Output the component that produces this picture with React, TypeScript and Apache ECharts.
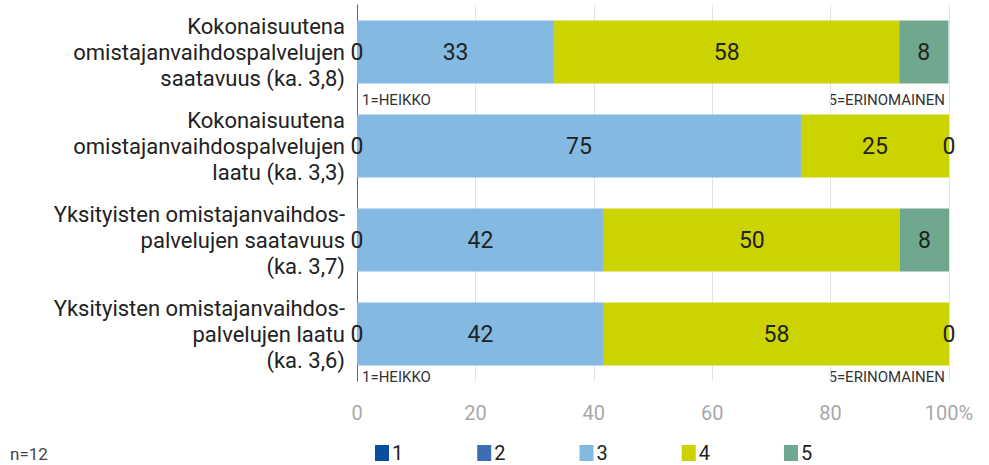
import React, { useEffect, useRef } from "react";
import * as echarts from "echarts";

const categories = [
  "Kokonaisuutena\nomistajanvaihdospalvelujen\nsaatavuus (ka. 3,8)",
  "Kokonaisuutena\nomistajanvaihdospalvelujen\nlaatu (ka. 3,3)",
  "Yksityisten omistajanvaihdos-\npalvelujen saatavuus\n(ka. 3,7)",
  "Yksityisten omistajanvaihdos-\npalvelujen laatu\n(ka. 3,6)",
];
const seriesNames = ["1", "2", "3", "4", "5"];
const s1 = [0, 0, 0, 0];
const s2 = [0, 0, 0, 0];
const s3 = [33.3, 75, 41.7, 41.7];
const s4 = [58.3, 25, 50, 58.3];
const s5 = [8.3, 0, 8.3, 0];
const colors = ["#0a4f9e", "#3d6db4", "#84bae2", "#cbd300", "#6fa88f"];
const xTicks = [0, 20, 40, 60, 80, 100];

const FONT = "Roboto, sans-serif";

export default function App() {
  const ref = useRef<HTMLDivElement>(null);
  useEffect(() => {
    if (!ref.current) return;
    const chart = echarts.init(ref.current, null, { renderer: "svg" });
    const data = [s1, s2, s3, s4, s5];
    const series = data.map((d, i) => ({
      name: seriesNames[i],
      type: "bar",
      stack: "total",
      barWidth: 63,
      data: d,
      itemStyle: { color: colors[i] },
      label: {
        show: i !== 1,
        position: "inside",
        color: "#222",
        fontSize: 23,
        fontFamily: FONT,
        formatter: (p: any) => String(Math.round(p.value)),
      },
    }));
    const small = { fontSize: 15, fontFamily: FONT, fill: "#333" };
    chart.setOption({
      animation: false,
      textStyle: { fontFamily: FONT },
      grid: { left: 357, right: 40, top: 5, bottom: 84, containLabel: false },
      xAxis: {
        type: "value",
        min: 0,
        max: 100,
        interval: 20,
        axisLabel: {
          color: "#a8a8a8",
          fontSize: 20,
          margin: 22,
          formatter: (v: number) => (v === xTicks[xTicks.length - 1] ? v + "%" : String(v)),
        },
        splitLine: { lineStyle: { color: "#e3e3e3" } },
        axisLine: { show: false },
        axisTick: { show: false },
      },
      yAxis: {
        type: "category",
        inverse: true,
        data: categories,
        axisLabel: {
          color: "#222",
          fontSize: 22,
          lineHeight: 26,
          align: "right",
          margin: 12,
          fontFamily: FONT,
        },
        axisLine: { show: true, lineStyle: { color: "#666", width: 1 } },
        axisTick: { show: false },
      },
      legend: {
        data: seriesNames,
        top: 438,
        left: 370,
        itemGap: 74,
        itemWidth: 14,
        itemHeight: 16,
        icon: "rect",
        textStyle: { fontSize: 20, color: "#222", fontFamily: FONT, padding: [0, 0, 0, -2] },
      },
      graphic: [
        { type: "text", left: 10, top: 445, style: { text: "n=12", fontSize: 17, fontFamily: FONT, fill: "#444" } },
        { type: "text", left: 362, top: 92, style: { text: "1=HEIKKO", ...small } },
        { type: "text", right: 44, top: 92, style: { text: "5=ERINOMAINEN", ...small } },
        { type: "text", left: 362, top: 369, style: { text: "1=HEIKKO", ...small } },
        { type: "text", right: 44, top: 369, style: { text: "5=ERINOMAINEN", ...small } },
      ],
      series,
    });
    return () => chart.dispose();
  }, []);
  return <div ref={ref} style={{ position: "absolute", left: 0, top: 0, width: 989, height: 465 }} />;
}
